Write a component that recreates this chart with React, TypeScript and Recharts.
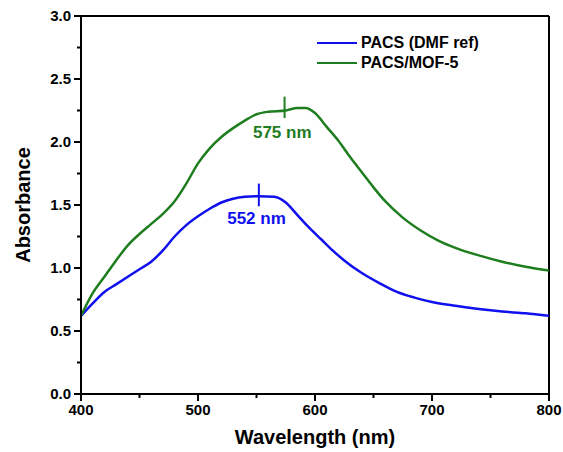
import React from 'react';
import {
  LineChart, Line, XAxis, YAxis, ReferenceLine, ReferenceDot, Legend,
} from 'recharts';

// absorbance spectra
const dmfWavelength = [400, 410, 420, 430, 440, 450, 460, 470, 480, 490, 500, 510, 520, 530, 540, 552, 565, 575, 585, 595, 605, 615, 625, 640, 655, 670, 685, 700, 720, 740, 760, 780, 800];
const dmfAbsorbance = [0.62, 0.72, 0.81, 0.87, 0.93, 0.99, 1.05, 1.14, 1.25, 1.34, 1.41, 1.47, 1.52, 1.55, 1.565, 1.57, 1.565, 1.52, 1.42, 1.32, 1.23, 1.14, 1.06, 0.96, 0.88, 0.81, 0.765, 0.73, 0.70, 0.675, 0.655, 0.64, 0.62];

const mofWavelength = [400, 410, 420, 430, 440, 450, 460, 470, 480, 490, 500, 510, 520, 530, 540, 550, 560, 575, 585, 592, 600, 610, 620, 630, 640, 650, 660, 675, 690, 705, 720, 740, 760, 780, 800];
const mofAbsorbance = [0.62, 0.80, 0.93, 1.06, 1.18, 1.27, 1.35, 1.43, 1.53, 1.67, 1.83, 1.95, 2.04, 2.11, 2.17, 2.22, 2.24, 2.25, 2.27, 2.27, 2.23, 2.12, 2.01, 1.88, 1.76, 1.64, 1.53, 1.40, 1.30, 1.22, 1.16, 1.10, 1.05, 1.01, 0.98];

const xTicks = [400, 450, 500, 550, 600, 650, 700, 750, 800];
const yTicks = [0, 0.25, 0.5, 0.75, 1, 1.25, 1.5, 1.75, 2, 2.25, 2.5, 2.75, 3];

const seriesNames = ['PACS (DMF ref)', 'PACS/MOF-5'];
const peakLabels = ['552 nm', '575 nm'];

const BLUE = '#1010ee';
const GREEN = '#1e7d1e';
const FONT = '"Liberation Sans", Arial, sans-serif';
const TICK = 7;
const GAP = 3;

const dmfData = dmfWavelength.map((x, i) => ({ x, y: dmfAbsorbance[i] }));
const mofData = mofWavelength.map((x, i) => ({ x, y: mofAbsorbance[i] }));

const XTick = (props: any) => {
  const { x, y, payload } = props;
  const major = payload.value % 100 === 0;
  const ay = y - TICK - GAP;
  return (
    <g>
      <line x1={x} x2={x} y1={ay} y2={ay + (major ? TICK : 4)} stroke="#000" strokeWidth={2} />
      {major && (
        <text x={x} y={ay + 10} dy="0.72em" textAnchor="middle" fontFamily={FONT}
          fontWeight="bold" fontSize={15} fill="#000">{payload.value}</text>
      )}
    </g>
  );
};

const YTick = (props: any) => {
  const { x, y, payload } = props;
  const major = Math.abs(payload.value * 2 - Math.round(payload.value * 2)) < 1e-6;
  const ax = x + TICK + GAP;
  return (
    <g>
      <line x1={ax} x2={ax - (major ? TICK : 4)} y1={y} y2={y} stroke="#000" strokeWidth={2} />
      {major && (
        <text x={ax - 10} y={y} dy="0.36em" textAnchor="end" fontFamily={FONT}
          fontWeight="bold" fontSize={15} fill="#000">{payload.value.toFixed(1)}</text>
      )}
    </g>
  );
};

const LegendBox = () => (
  <div style={{ fontFamily: FONT, fontWeight: 'bold', fontSize: 16, color: '#000' }}>
    {seriesNames.map((name, i) => (
      <div key={name} style={{ display: 'flex', alignItems: 'center', height: 20 }}>
        <span style={{ display: 'inline-block', width: 40, height: 2.5, background: i === 0 ? BLUE : GREEN, marginRight: 4 }} />
        <span>{name}</span>
      </div>
    ))}
  </div>
);

export default function App() {
  return (
    <div style={{ width: 563, height: 452 }}>
      <style>{'body{margin:0;overflow:hidden}'}</style>
      <LineChart width={563} height={452} margin={{ top: 16, right: 14, bottom: 0, left: 0 }}>
        <XAxis
          type="number"
          dataKey="x"
          domain={[400, 800]}
          ticks={xTicks}
          allowDataOverflow
          height={58}
          tickSize={TICK}
          tickMargin={GAP}
          tickLine={false}
          tick={<XTick />}
          axisLine={{ stroke: '#000', strokeWidth: 2 }}
          label={{
            content: (p: any) => {
              const vb = p.viewBox;
              return (
                <text x={vb.x + vb.width / 2} y={vb.y + 43} textAnchor="middle" dominantBaseline="central"
                  fontFamily={FONT} fontWeight="bold" fontSize={20} fill="#000">Wavelength (nm)</text>
              );
            },
          }}
        />
        <YAxis
          type="number"
          dataKey="y"
          domain={[0, 3]}
          ticks={yTicks}
          width={81}
          tickSize={TICK}
          tickMargin={GAP}
          tickLine={false}
          tick={<YTick />}
          axisLine={{ stroke: '#000', strokeWidth: 2 }}
          label={{
            content: (p: any) => {
              const vb = p.viewBox;
              const cx = 23;
              const cy = vb.y + vb.height / 2;
              return (
                <text x={cx} y={cy} textAnchor="middle" dominantBaseline="central"
                  transform={`rotate(-90 ${cx} ${cy})`}
                  fontFamily={FONT} fontWeight="bold" fontSize={20} fill="#000">Absorbance</text>
              );
            },
          }}
        />
        <ReferenceLine y={3} stroke="#000" strokeWidth={2} />
        <ReferenceLine x={800} stroke="#000" strokeWidth={2} />
        <Legend layout="vertical" align="center" verticalAlign="middle"
          wrapperStyle={{ top: 33, left: 317, width: 'auto' }} content={<LegendBox />} />
        <Line data={dmfData} dataKey="y" name={seriesNames[0]} type="monotone" stroke={BLUE}
          strokeWidth={2.5} dot={false} isAnimationActive={false} />
        <Line data={mofData} dataKey="y" name={seriesNames[1]} type="monotone" stroke={GREEN}
          strokeWidth={2.5} dot={false} isAnimationActive={false} />
        <ReferenceLine segment={[{ x: 552, y: 1.49 }, { x: 552, y: 1.67 }]} stroke={BLUE} strokeWidth={2} />
        <ReferenceLine segment={[{ x: 574, y: 2.19 }, { x: 574, y: 2.36 }]} stroke={GREEN} strokeWidth={2} />
        <ReferenceDot x={550} y={1.4} r={0} fill="none" stroke="none"
          label={{ value: peakLabels[0], position: 'center', fill: BLUE, fontSize: 17, fontWeight: 'bold', fontFamily: FONT }} />
        <ReferenceDot x={572} y={2.08} r={0} fill="none" stroke="none"
          label={{ value: peakLabels[1], position: 'center', fill: GREEN, fontSize: 17, fontWeight: 'bold', fontFamily: FONT }} />
      </LineChart>
    </div>
  );
}
